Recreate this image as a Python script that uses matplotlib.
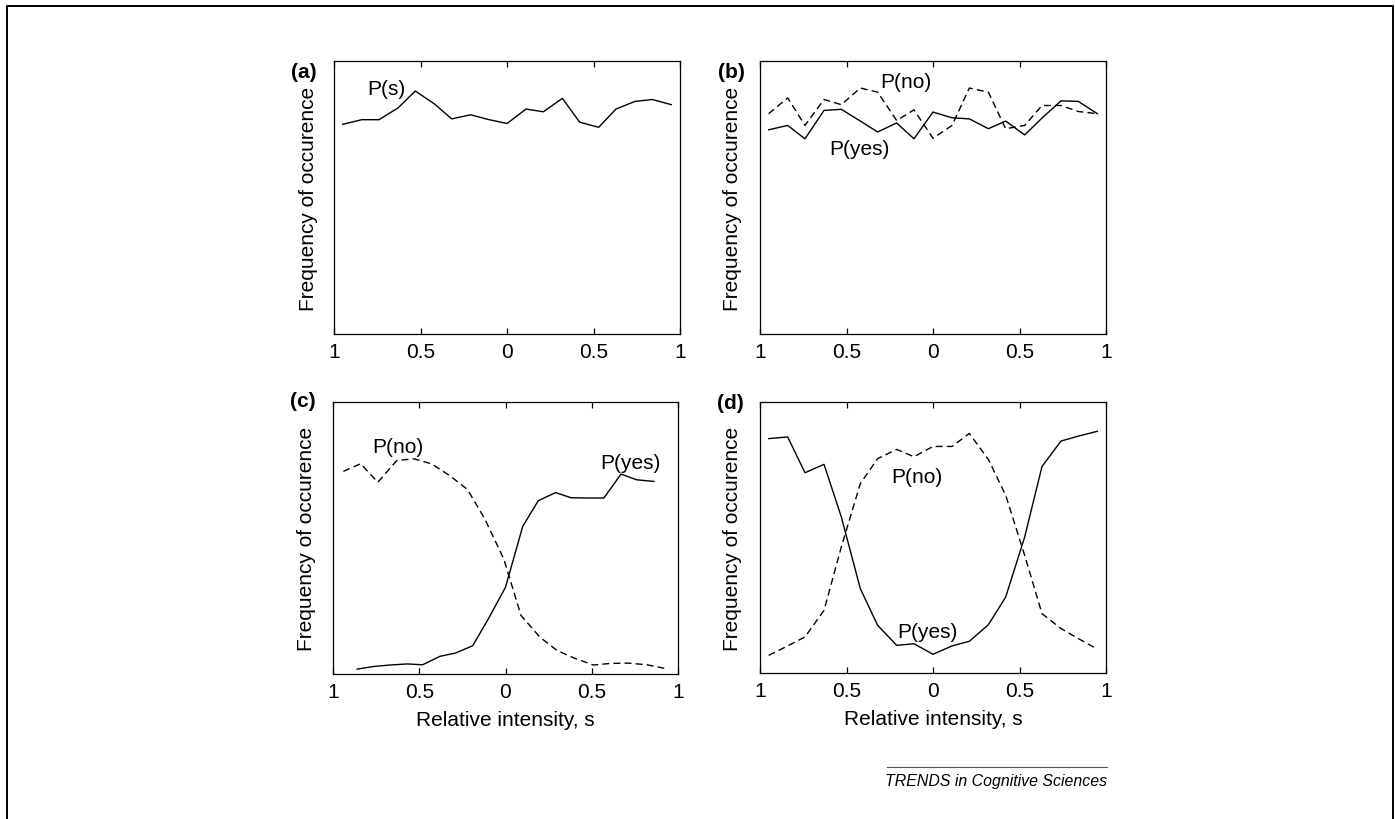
import matplotlib
matplotlib.use("Agg")
import matplotlib.pyplot as plt
from matplotlib.lines import Line2D

plt.rcParams['font.family'] = ['Liberation Sans', 'DejaVu Sans']

# relative intensity positions (x)
s_a = [-0.95, -0.84, -0.74, -0.63, -0.53, -0.42, -0.32, -0.21, -0.11, 0.0,
       0.11, 0.21, 0.32, 0.42, 0.53, 0.63, 0.74, 0.84, 0.95]
s_c_yes = [-0.86, -0.76, -0.67, -0.57, -0.48, -0.38, -0.29, -0.19, -0.10, 0.0,
           0.10, 0.19, 0.29, 0.38, 0.48, 0.57, 0.67, 0.76, 0.86]
s_c_no = [-0.94, -0.84, -0.74, -0.63, -0.53, -0.43, -0.32, -0.22, -0.12, -0.01,
          0.09, 0.20, 0.30, 0.40, 0.51, 0.61, 0.71, 0.82, 0.92]

# (a) P(s)
ps_a = [0.768, 0.785, 0.785, 0.828, 0.890, 0.843, 0.788, 0.803, 0.786, 0.771,
        0.824, 0.814, 0.863, 0.776, 0.757, 0.824, 0.852, 0.859, 0.840]

# (b) flat
yes_b = [0.748, 0.764, 0.715, 0.819, 0.823, 0.780, 0.740, 0.773, 0.715, 0.813,
         0.792, 0.788, 0.752, 0.780, 0.729, 0.791, 0.854, 0.852, 0.807]
no_b = [0.807, 0.865, 0.764, 0.859, 0.840, 0.901, 0.886, 0.782, 0.821, 0.717,
        0.764, 0.901, 0.886, 0.752, 0.764, 0.837, 0.837, 0.815, 0.807]

# (c) single threshold
yes_c = [0.018, 0.028, 0.033, 0.037, 0.034, 0.065, 0.077, 0.104, 0.202, 0.319,
         0.543, 0.637, 0.667, 0.648, 0.647, 0.647, 0.735, 0.714, 0.708]
no_c = [0.745, 0.773, 0.705, 0.785, 0.791, 0.773, 0.728, 0.678, 0.570, 0.423,
        0.215, 0.135, 0.086, 0.058, 0.033, 0.039, 0.040, 0.034, 0.021]

# (d) two thresholds
yes_d = [0.865, 0.871, 0.739, 0.770, 0.576, 0.311, 0.176, 0.102, 0.108, 0.069,
         0.100, 0.117, 0.178, 0.280, 0.502, 0.762, 0.856, 0.874, 0.892]
no_d = [0.065, 0.100, 0.133, 0.231, 0.465, 0.699, 0.791, 0.825, 0.798, 0.836,
        0.836, 0.884, 0.788, 0.656, 0.434, 0.219, 0.164, 0.127, 0.088]

tick_pos = [-1, -0.5, 0, 0.5, 1]
tick_lbl = ["1", "0.5", "0", "0.5", "1"]

W, H = 1395, 820
FS = 15
DASH = (5, 3)


def px_axes(x0, y0, x1, y1):
    return [x0 / W, 1 - y1 / H, (x1 - x0) / W, (y1 - y0) / H]


def style(ax, xlabel=False):
    ax.set_xlim(-1, 1)
    ax.set_ylim(0, 1)
    ax.set_xticks(tick_pos)
    ax.set_xticklabels(tick_lbl)
    ax.set_yticks([])
    ax.tick_params(axis='x', direction='in', top=True, length=4, width=0.9,
                   labelsize=FS, pad=5.5)
    for sp in ax.spines.values():
        sp.set_linewidth(0.9)
    ax.set_ylabel("Frequency of occurence", fontsize=FS)
    ax.yaxis.label.set_va('center')
    if xlabel:
        ax.set_xlabel("Relative intensity, s", fontsize=FS, labelpad=7)


fig = plt.figure(figsize=(W / 100, H / 100), dpi=100)

ax_a = fig.add_axes(px_axes(334, 62, 680, 335))
ax_b = fig.add_axes(px_axes(760, 62, 1106, 335))
ax_c = fig.add_axes(px_axes(333, 403, 678, 675))
ax_d = fig.add_axes(px_axes(760, 403, 1106, 674))

# (a)
ax_a.plot(s_a, ps_a, color='black', lw=1.0)
ax_a.text(-0.70, 0.898, "P(s)", fontsize=FS, ha='center', va='center')
style(ax_a)
ax_a.yaxis.set_label_coords((308.5 - 334) / 346, 0.5)

# (b)
ax_b.plot(s_a, no_b, color='black', lw=1.0, dashes=DASH)
ax_b.plot(s_a, yes_b, color='black', lw=1.0)
ax_b.text(-0.158, 0.926, "P(no)", fontsize=FS, ha='center', va='center')
ax_b.text(-0.427, 0.681, "P(yes)", fontsize=FS, ha='center', va='center')
style(ax_b)
ax_b.yaxis.set_label_coords((732.5 - 760) / 346, 0.5)

# (c)
ax_c.plot(s_c_no, no_c, color='black', lw=1.0, dashes=DASH)
ax_c.plot(s_c_yes, yes_c, color='black', lw=1.0)
ax_c.text(-0.624, 0.837, "P(no)", fontsize=FS, ha='center', va='center')
ax_c.text(0.723, 0.776, "P(yes)", fontsize=FS, ha='center', va='center')
style(ax_c, xlabel=True)
ax_c.yaxis.set_label_coords((306.7 - 333) / 345, 0.5)

# (d)
ax_d.plot(s_a, no_d, color='black', lw=1.0, dashes=DASH)
ax_d.plot(s_a, yes_d, color='black', lw=1.0)
ax_d.text(-0.094, 0.726, "P(no)", fontsize=FS, ha='center', va='center')
ax_d.text(-0.032, 0.154, "P(yes)", fontsize=FS, ha='center', va='center')
style(ax_d, xlabel=True)
ax_d.yaxis.set_label_coords((732.5 - 760) / 346, 0.5)

# panel letters
for lbl, (x, y) in {"(a)": (304, 72), "(b)": (731, 72),
                    "(c)": (303, 402), "(d)": (730, 404)}.items():
    fig.text(x / W, 1 - y / H, lbl, fontsize=FS, fontweight='bold',
             ha='center', va='center')

# footer
fig.add_artist(Line2D([886.7 / W, 1106.7 / W], [1 - 767.7 / H, 1 - 767.7 / H],
                      color='#555555', lw=0.8, transform=fig.transFigure))
fig.text(1106.7 / W, 1 - 782 / H, "TRENDS in Cognitive Sciences",
         fontsize=11.4, style='italic', ha='right', va='center')

# outer frame
fig.add_artist(Line2D([7 / W, 7 / W, 1393 / W, 1393 / W],
                      [-0.1, 1 - 7 / H, 1 - 7 / H, -0.1],
                      color='black', lw=1.4, transform=fig.transFigure))

fig.savefig("out.png", dpi=100)
